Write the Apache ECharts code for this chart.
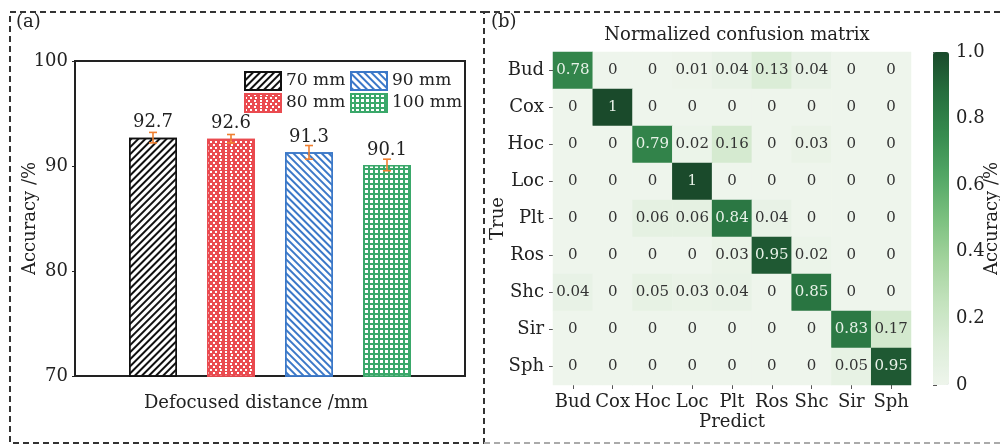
<!DOCTYPE html>
<html>
<head>
<meta charset="utf-8">
<script src="https://cdn.jsdelivr.net/npm/echarts@6/dist/echarts.min.js"></script>
<style>
html,body{margin:0;padding:0;background:#fff}
#main{width:1000px;height:445px}
</style>
</head>
<body>
<div id="main"></div>
<script>
// panel (a): accuracy per defocused distance
var barNames = ['70 mm', '80 mm', '90 mm', '100 mm'];
var barValues = [92.7, 92.6, 91.3, 90.1];
var barErrors = [0.5, 0.4, 0.65, 0.55];
var accTicks = [70, 80, 90, 100];

// panel (b): normalized confusion matrix (rows = true, cols = predict)
var classes = ['Bud', 'Cox', 'Hoc', 'Loc', 'Plt', 'Ros', 'Shc', 'Sir', 'Sph'];
var cmRows = [
    [0.78, 0, 0, 0.01, 0.04, 0.13, 0.04, 0, 0],
    [0, 1, 0, 0, 0, 0, 0, 0, 0],
    [0, 0, 0.79, 0.02, 0.16, 0, 0.03, 0, 0],
    [0, 0, 0, 1, 0, 0, 0, 0, 0],
    [0, 0, 0.06, 0.06, 0.84, 0.04, 0, 0, 0],
    [0, 0, 0, 0, 0.03, 0.95, 0.02, 0, 0],
    [0.04, 0, 0.05, 0.03, 0.04, 0, 0.85, 0, 0],
    [0, 0, 0, 0, 0, 0, 0, 0.83, 0.17],
    [0, 0, 0, 0, 0, 0, 0, 0.05, 0.95]
];
var cbTicks = [0, 0.2, 0.4, 0.6, 0.8, 1.0];

var FONT = 'DejaVu Serif';
var INK = '#222';

var chart = echarts.init(document.getElementById('main'));

// bar looks: fill, border, decal
var barLooks = [
    {fill: '#ffffff', border: '#111111', decal: {color: '#111', symbol: 'rect', dashArrayX: [1, 0], dashArrayY: [1.6, 2.2], rotation: -Math.PI / 4}},
    {fill: '#ea4b50', border: '#ea4b50', decal: {color: '#fff', symbol: 'rect', dashArrayX: [[1.5, 3], [0, 2.25, 1.5, 0.75]], dashArrayY: [1.5, 0.8]}},
    {fill: '#ffffff', border: '#3b78c8', decal: {color: '#3b78c8', symbol: 'rect', dashArrayX: [1, 0], dashArrayY: [1.6, 2.2], rotation: Math.PI / 4}},
    {fill: '#3aa86a', border: '#3aa86a', decal: {color: '#fff', symbol: 'rect', dashArrayX: [2.5, 1.8], dashArrayY: [2.5, 1.8]}}
];

var series = [];
barNames.forEach(function (name, i) {
    series.push({
        name: name,
        type: 'bar',
        xAxisIndex: 0,
        yAxisIndex: 0,
        barWidth: 48,
        barGap: '-100%',
        data: [[i + 1, barValues[i]]],
        itemStyle: {
            color: barLooks[i].fill,
            borderColor: barLooks[i].border,
            borderWidth: 1.5,
            decal: barLooks[i].decal
        },
        label: {
            show: true,
            position: 'top',
            distance: 6,
            color: INK,
            fontFamily: FONT,
            fontSize: 18,
            formatter: function (p) { return p.value[1].toFixed(1); }
        },
        emphasis: {disabled: true}
    });
});

// error bars
series.push({
    type: 'custom',
    xAxisIndex: 0,
    yAxisIndex: 0,
    z: 5,
    data: barValues.map(function (v, i) { return [i + 1, v, barErrors[i]]; }),
    encode: {x: 0, y: 1},
    renderItem: function (params, api) {
        var x = api.value(0), v = api.value(1), e = api.value(2);
        var hi = api.coord([x, v + e]);
        var lo = api.coord([x, v - e]);
        var cap = 4;
        var st = {stroke: '#ef7f30', lineWidth: 1.6};
        return {
            type: 'group',
            children: [
                {type: 'line', shape: {x1: hi[0], y1: hi[1], x2: lo[0], y2: lo[1]}, style: st},
                {type: 'line', shape: {x1: hi[0] - cap, y1: hi[1], x2: hi[0] + cap, y2: hi[1]}, style: st},
                {type: 'line', shape: {x1: lo[0] - cap, y1: lo[1], x2: lo[0] + cap, y2: lo[1]}, style: st}
            ]
        };
    }
});

// heatmap cells
var cells = [];
cmRows.forEach(function (row, r) {
    row.forEach(function (v, c) {
        cells.push({value: [c, r, v], label: {color: v > 0.5 ? '#e8f2e8' : '#333'}});
    });
});
series.push({
    type: 'heatmap',
    xAxisIndex: 1,
    yAxisIndex: 1,
    data: cells,
    label: {
        show: true,
        fontFamily: FONT,
        fontSize: 15,
        formatter: function (p) { return String(p.value[2]); }
    },
    emphasis: {disabled: true}
});
var heatIndex = series.length - 1;

var option = {
    animation: false,
    textStyle: {fontFamily: FONT, color: INK},
    grid: [
        {left: 75, top: 61, width: 390, height: 315, show: true, borderColor: INK, borderWidth: 2, outerBoundsMode: 'none'},
        {left: 553, top: 52, width: 358, height: 333, outerBoundsMode: 'none'},
        {left: 933, top: 52, width: 16, height: 333, outerBoundsMode: 'none'}
    ],
    xAxis: [
        {gridIndex: 0, type: 'value', min: 0, max: 5, show: false},
        {
            gridIndex: 1, type: 'category', data: classes,
            axisLine: {show: false},
            axisTick: {show: true, alignWithLabel: true, length: 4, lineStyle: {color: '#555'}},
            axisLabel: {fontFamily: FONT, fontSize: 18, color: INK, margin: 8, interval: 0},
            name: 'Predict', nameLocation: 'middle', nameGap: 28, nameMoveOverlap: false,
            nameTextStyle: {fontFamily: FONT, fontSize: 18, color: INK}
        },
        {gridIndex: 2, type: 'value', show: false}
    ],
    yAxis: [
        {
            gridIndex: 0, type: 'value', min: accTicks[0], max: accTicks[accTicks.length - 1], interval: 10,
            axisLine: {show: false},
            axisTick: {show: true, length: 3, lineStyle: {color: INK}},
            splitLine: {show: false},
            axisLabel: {fontFamily: FONT, fontSize: 18, color: INK, margin: 7},
            name: 'Accuracy /%', nameLocation: 'middle', nameGap: 36, nameMoveOverlap: false,
            nameTextStyle: {fontFamily: FONT, fontSize: 18, color: INK}
        },
        {
            gridIndex: 1, type: 'category', data: classes, inverse: true,
            axisLine: {show: false},
            axisTick: {show: true, alignWithLabel: true, length: 4, lineStyle: {color: '#555'}},
            axisLabel: {fontFamily: FONT, fontSize: 18, color: INK, margin: 9},
            name: 'True', nameLocation: 'middle', nameGap: 46, nameMoveOverlap: false,
            nameTextStyle: {fontFamily: FONT, fontSize: 18, color: INK}
        },
        {
            gridIndex: 2, type: 'value', position: 'right',
            min: cbTicks[0], max: cbTicks[cbTicks.length - 1], interval: 0.2,
            axisLine: {show: false},
            axisTick: {show: true, length: 4, lineStyle: {color: '#555'}},
            splitLine: {show: false},
            axisLabel: {
                fontFamily: FONT, fontSize: 18, color: INK, margin: 7,
                formatter: function (v) { return v === 0 ? '0' : v.toFixed(1); }
            },
            name: 'Accuracy /%', nameLocation: 'middle', nameGap: 34, nameRotate: 90, nameMoveOverlap: false,
            nameTextStyle: {fontFamily: FONT, fontSize: 18, color: INK}
        }
    ],
    visualMap: {
        type: 'continuous',
        seriesIndex: heatIndex,
        min: 0,
        max: 1,
        left: 933,
        top: 52,
        padding: 0,
        itemWidth: 16,
        itemHeight: 333,
        calculable: false,
        showLabel: false,
        inRange: {
            color: ['#eef5ec', '#dcedd8', '#c3e2bd', '#a3d39d', '#7bc07f', '#53a766', '#378c4f', '#266f3e', '#1a4a2b']
        }
    },
    legend: [
        {
            left: 244, top: 71, orient: 'vertical', padding: 0, itemGap: 2,
            itemWidth: 36, itemHeight: 18, icon: 'rect',
            data: ['70 mm', '80 mm'],
            textStyle: {fontFamily: FONT, fontSize: 17, color: INK}
        },
        {
            left: 350, top: 71, orient: 'vertical', padding: 0, itemGap: 2,
            itemWidth: 36, itemHeight: 18, icon: 'rect',
            data: ['90 mm', '100 mm'],
            textStyle: {fontFamily: FONT, fontSize: 17, color: INK}
        }
    ],
    title: {
        text: 'Normalized confusion matrix',
        left: 737, top: 26, textAlign: 'center', padding: 0,
        textStyle: {fontFamily: FONT, fontSize: 18, fontWeight: 'normal', color: INK}
    },
    graphic: [
        {
            type: 'rect', silent: true,
            shape: {x: 10, y: 12, width: 474, height: 431},
            style: {fill: 'none', stroke: '#333', lineWidth: 2, lineDash: [6, 4]}
        },
        {
            type: 'polyline', silent: true,
            shape: {points: [[484, 12], [1000, 12]]},
            style: {fill: 'none', stroke: '#333', lineWidth: 2, lineDash: [6, 4]}
        },
        {
            type: 'polyline', silent: true,
            shape: {points: [[484, 443], [1000, 443]]},
            style: {fill: 'none', stroke: '#aaa', lineWidth: 2, lineDash: [6, 4]}
        },
        {type: 'text', left: 16, top: 13, style: {text: '(a)', font: '18px "DejaVu Serif"', fill: INK}},
        {type: 'text', left: 491, top: 13, style: {text: '(b)', font: '18px "DejaVu Serif"', fill: INK}},
        {
            type: 'text', x: 256, y: 403,
            style: {text: 'Defocused distance /mm', font: '18px "DejaVu Serif"', fill: INK, align: 'center', verticalAlign: 'middle'}
        }
    ],
    series: series
};
chart.setOption(option);
</script>
</body>
</html>
